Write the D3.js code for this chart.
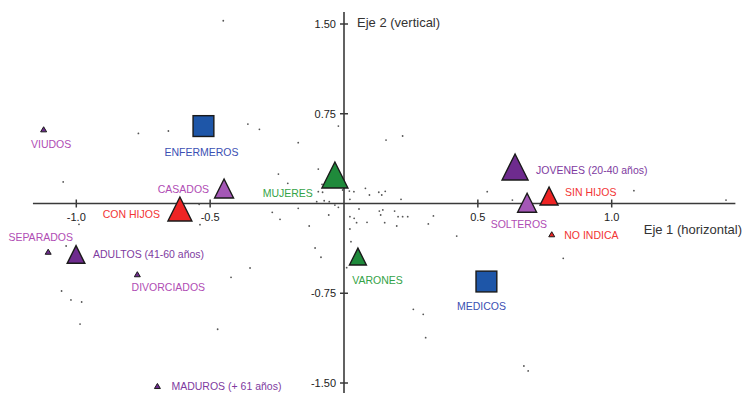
<!DOCTYPE html>
<html><head><meta charset="utf-8">
<script src="https://cdn.jsdelivr.net/npm/d3@7"></script>
<style>
html,body{margin:0;padding:0;background:#fff;}
svg{display:block;font-family:"Liberation Sans",Arial,sans-serif;}
</style></head>
<body>
<svg id="chart" width="745" height="393"></svg>
<script>
// ---- DATA ----
const categorias = ["ENFERMEROS","MEDICOS","JOVENES (20-40 años)","ADULTOS (41-60 años)","MADUROS (+ 61 años)",
  "CASADOS","SOLTEROS","VIUDOS","SEPARADOS","DIVORCIADOS","CON HIJOS","SIN HIJOS","NO INDICA","MUJERES","VARONES"];
const eje1 = [-0.525, 0.532, 0.639, -1.001, -0.697, -0.448, 0.684, -1.122, -1.105, -0.772, -0.613, 0.766, 0.776, -0.034, 0.052];
const eje2 = [0.647, -0.652, 0.305, -0.426, -1.525, 0.125, 0.006, 0.620, -0.403, -0.591, -0.046, 0.063, -0.257, 0.238, -0.443];
const pesos = [0.8, 0.8, 1.0, 0.68, 0.23, 0.73, 0.73, 0.23, 0.23, 0.23, 0.92, 0.69, 0.23, 1.0, 0.65];
const grupos = ["profesion","profesion","edad","edad","edad","estado","estado","estado","estado","estado","hijos","hijos","hijos","sexo","sexo"];

// individuals (small dots)
const indivX = [-0.245,-0.210,-0.096,-0.082,-0.096,-0.080,-0.005,-0.005,0.020,0.037,0.080,0.095,0.130,0.141,0.154,0.213,
  -0.102,-0.074,-0.055,0.022,-0.268,-0.239,-0.171,-0.130,-0.057,-0.034,-0.021,0.022,0.038,0.047,0.056,0.086,0.132,0.145,
  0.137,0.152,0.189,0.202,0.219,0.238,0.197,0.315,0.334,0.022,0.026,0.421,-0.108,-0.086,-0.351,0.010,0.259,0.296,0.305,
  0.672,0.688,0.819,0.629,1.427,1.083,0.157,0.219,-0.316,-0.171,-0.021,0.535,-0.451,-0.768,-0.656,-0.359,-1.049,-0.541,
  -1.038,-0.990,-0.538,-1.055,-1.020,-0.980,-0.986,-0.472,-0.422];
const indivY = [0.246,0.169,0.288,0.160,0.099,0.094,0.177,0.113,0.104,0.099,0.127,0.071,0.094,0.071,0.102,0.035,
  0.015,0.023,0.015,0.035,-0.074,-0.132,-0.040,-0.188,-0.096,-0.013,-0.032,-0.110,-0.124,-0.160,-0.046,-0.157,-0.063,-0.054,
  -0.096,-0.160,-0.063,-0.110,-0.110,-0.110,-0.188,-0.171,-0.104,-0.213,-0.319,-0.272,-0.372,-0.449,-0.539,-0.536,-0.884,-0.926,-1.121,
  -1.358,-1.399,-0.458,0.029,0.029,0.107,0.530,0.564,0.620,0.508,0.647,0.099,1.527,0.586,0.606,0.664,0.180,-0.007,
  -0.355,-0.174,-0.177,-0.731,-0.806,-0.823,-1.008,-1.051,-0.617];

const ticksX = [-1.0, -0.5, 0.5, 1.0];
const ticksXLabels = ["-1.0","-0.5","0.5","1.0"];
const ticksY = [1.5, 0.75, -0.75, -1.5];
const ticksYLabels = ["1.50","0.75","-0.75","-1.50"];
const tituloX = "Eje 1 (horizontal)";
const tituloY = "Eje 2 (vertical)";

// ---- STYLES / LAYOUT ----
const estilo = {
  profesion: {fill:"#1e56a8", text:"#3b4fb3"},
  edad:      {fill:"#6e2b8e", text:"#7e3aa0"},
  estado:    {fill:"#a457b6", text:"#b04cb4"},
  hijos:     {fill:"#ee2424", text:"#f23434"},
  sexo:      {fill:"#1f8a3b", text:"#34a347"}
};
const smallFill = {"VIUDOS":"#6e2b8e","SEPARADOS":"#6e2b8e","DIVORCIADOS":"#6e2b8e"};
// label placement: [dx, dy, anchor]
const etiquetas = {
  "ENFERMEROS":[-2,26,"middle"],
  "MEDICOS":[-5,24,"middle"],
  "JOVENES (20-40 años)":[21,3,"start"],
  "ADULTOS (41-60 años)":[17,0,"start"],
  "MADUROS (+ 61 años)":[14,0,"start"],
  "CASADOS":[-15,0,"end"],
  "SOLTEROS":[20,21.5,"end"],
  "VIUDOS":[7.5,15,"middle"],
  "SEPARADOS":[-7.5,-15,"middle"],
  "DIVORCIADOS":[31,12.5,"middle"],
  "CON HIJOS":[-20,5,"end"],
  "SIN HIJOS":[16,-4,"start"],
  "NO INDICA":[12.5,0.7,"start"],
  "MUJERES":[-22,18,"end"],
  "VARONES":[-5.7,23,"start"]
};

const svg = d3.select("#chart");
const x = d3.scaleLinear().domain([-1,1]).range([76.3, 611.7]);
const y = d3.scaleLinear().domain([-1.5,1.5]).range([383, 24]);
const size = d3.scaleLinear().domain([0,1]).range([0,26]);

const axisColor = "#3a3a3a";
// axes lines
svg.append("line").attr("x1", x(-1.162)).attr("x2", x(1.462)).attr("y1", y(0)).attr("y2", y(0))
  .attr("stroke", axisColor).attr("stroke-width", 1.6);
svg.append("line").attr("x1", x(0)).attr("x2", x(0)).attr("y1", y(1.6)).attr("y2", y(-1.6))
  .attr("stroke", axisColor).attr("stroke-width", 1.6);

// ticks X
svg.selectAll(".tx").data(ticksX).enter().append("line")
  .attr("x1", d=>x(d)).attr("x2", d=>x(d)).attr("y1", y(0)-4).attr("y2", y(0)+4)
  .attr("stroke", axisColor).attr("stroke-width", 1.5);
svg.selectAll(".tlx").data(ticksX).enter().append("text")
  .attr("x", d=>x(d)).attr("y", y(0)+13.5).attr("text-anchor","middle").attr("dominant-baseline","central")
  .attr("font-size", 11).attr("fill", "#222").text((d,i)=>ticksXLabels[i]);
// ticks Y
svg.selectAll(".ty").data(ticksY).enter().append("line")
  .attr("x1", x(0)-4).attr("x2", x(0)+4).attr("y1", d=>y(d)).attr("y2", d=>y(d))
  .attr("stroke", axisColor).attr("stroke-width", 1.5);
svg.selectAll(".tly").data(ticksY).enter().append("text")
  .attr("x", x(0)-8).attr("y", d=>y(d)).attr("text-anchor","end").attr("dominant-baseline","central")
  .attr("font-size", 11).attr("fill", "#222").text((d,i)=>ticksYLabels[i]);

// axis titles
svg.append("text").attr("x", x(0)+13).attr("y", y(1.5)-2).attr("dominant-baseline","central")
  .attr("font-size", 13).attr("fill", "#333").text(tituloY);
svg.append("text").attr("x", 742).attr("y", y(0)+26).attr("text-anchor","end").attr("dominant-baseline","central")
  .attr("font-size", 13).attr("fill", "#333").text(tituloX);

// individuals
svg.selectAll(".ind").data(indivX.map((d,i)=>({x:d,y:indivY[i]}))).enter().append("circle")
  .attr("cx", d=>x(d.x)).attr("cy", d=>y(d.y)).attr("r", 0.9).attr("fill", "#555");

// categories
const cats = categorias.map((c,i)=>({name:c, x:eje1[i], y:eje2[i], w:pesos[i], g:grupos[i]}));
cats.forEach(d=>{
  const cx = x(d.x), cy = y(d.y), s = size(d.w);
  const st = estilo[d.g];
  if (d.g === "profesion") {
    svg.append("rect").attr("x", cx-s/2).attr("y", cy-s/2).attr("width", s).attr("height", s)
      .attr("fill", st.fill).attr("stroke", "#1a1a1a").attr("stroke-width", 1.4);
  } else {
    const h = d.w < 0.3 ? s*0.85 : s;
    const p = d3.path();
    p.moveTo(cx, cy-h/2); p.lineTo(cx+s/2, cy+h/2); p.lineTo(cx-s/2, cy+h/2); p.closePath();
    svg.append("path").attr("d", p.toString())
      .attr("fill", smallFill[d.name] || st.fill).attr("stroke", "#1a1a1a").attr("stroke-width", d.w < 0.3 ? 1 : 1.4)
      .attr("stroke-linejoin","miter");
  }
  const L = etiquetas[d.name];
  svg.append("text").attr("x", cx+L[0]).attr("y", cy+L[1]).attr("text-anchor", L[2])
    .attr("dominant-baseline","central").attr("font-size", 10.5).attr("fill", st.text).text(d.name);
});
</script>
</body></html>
